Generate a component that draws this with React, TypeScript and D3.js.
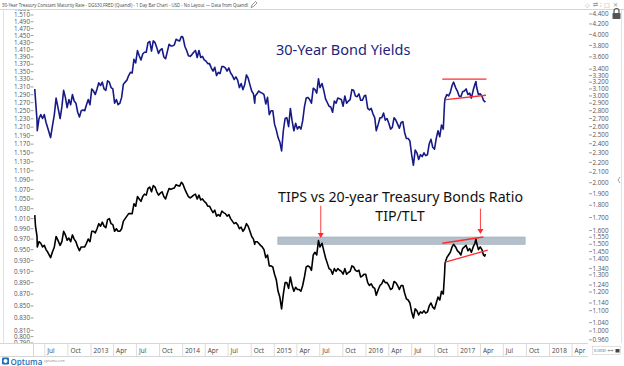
import React from "react";
import * as d3 from "d3";

// 30-Year Treasury yield (%), right axis
const yieldSeries: [string, number][] = [
  ["2012-05-22", 3.1], ["2012-05-25", 2.95], ["2012-05-31", 2.68], ["2012-06-01", 2.55], ["2012-06-08", 2.7],
  ["2012-06-15", 2.75], ["2012-06-22", 2.7], ["2012-06-29", 2.75], ["2012-07-06", 2.65], ["2012-07-13", 2.58],
  ["2012-07-24", 2.47], ["2012-07-31", 2.6], ["2012-08-08", 2.75], ["2012-08-15", 2.97], ["2012-08-22", 2.85],
  ["2012-08-31", 2.7], ["2012-09-07", 2.85], ["2012-09-14", 3.08], ["2012-09-21", 2.98], ["2012-09-28", 2.84],
  ["2012-10-05", 2.95], ["2012-10-12", 2.88], ["2012-10-19", 3.02], ["2012-10-26", 2.93], ["2012-11-02", 2.9],
  ["2012-11-09", 2.78], ["2012-11-16", 2.72], ["2012-11-23", 2.8], ["2012-11-30", 2.81], ["2012-12-07", 2.8],
  ["2012-12-14", 2.88], ["2012-12-21", 2.95], ["2012-12-28", 2.88], ["2013-01-04", 3.1], ["2013-01-11", 3.07],
  ["2013-01-18", 3.02], ["2013-01-25", 3.1], ["2013-02-01", 3.19], ["2013-02-08", 3.15], ["2013-02-15", 3.2],
  ["2013-02-22", 3.1], ["2013-03-01", 3.08], ["2013-03-08", 3.22], ["2013-03-15", 3.2], ["2013-03-22", 3.12],
  ["2013-03-29", 3.1], ["2013-04-05", 2.9], ["2013-04-12", 2.95], ["2013-04-19", 2.88], ["2013-04-26", 2.9],
  ["2013-05-03", 2.98], ["2013-05-10", 3.17], ["2013-05-17", 3.2], ["2013-05-24", 3.23], ["2013-05-31", 3.3],
  ["2013-06-07", 3.35], ["2013-06-14", 3.34], ["2013-06-21", 3.56], ["2013-06-28", 3.5], ["2013-07-05", 3.71],
  ["2013-07-12", 3.62], ["2013-07-19", 3.55], ["2013-07-26", 3.65], ["2013-08-02", 3.68], ["2013-08-09", 3.68],
  ["2013-08-16", 3.85], ["2013-08-23", 3.87], ["2013-08-30", 3.7], ["2013-09-06", 3.88], ["2013-09-13", 3.85],
  ["2013-09-20", 3.76], ["2013-09-27", 3.66], ["2013-10-04", 3.72], ["2013-10-11", 3.74], ["2013-10-18", 3.6],
  ["2013-10-25", 3.57], ["2013-11-01", 3.69], ["2013-11-08", 3.82], ["2013-11-15", 3.79], ["2013-11-22", 3.79],
  ["2013-11-29", 3.81], ["2013-12-06", 3.91], ["2013-12-13", 3.89], ["2013-12-20", 3.88], ["2013-12-27", 3.96],
  ["2013-12-31", 3.96], ["2014-01-03", 3.93], ["2014-01-10", 3.78], ["2014-01-17", 3.71], ["2014-01-24", 3.62],
  ["2014-01-31", 3.61], ["2014-02-07", 3.64], ["2014-02-14", 3.68], ["2014-02-21", 3.71], ["2014-02-28", 3.59],
  ["2014-03-07", 3.71], ["2014-03-14", 3.59], ["2014-03-21", 3.61], ["2014-03-28", 3.55], ["2014-04-04", 3.53],
  ["2014-04-11", 3.49], ["2014-04-18", 3.49], ["2014-04-25", 3.42], ["2014-05-02", 3.37], ["2014-05-09", 3.43],
  ["2014-05-16", 3.3], ["2014-05-23", 3.35], ["2014-05-30", 3.33], ["2014-06-06", 3.44], ["2014-06-13", 3.44],
  ["2014-06-20", 3.42], ["2014-06-27", 3.37], ["2014-07-04", 3.42], ["2014-07-11", 3.34], ["2014-07-18", 3.3],
  ["2014-07-25", 3.24], ["2014-08-01", 3.28], ["2014-08-08", 3.23], ["2014-08-15", 3.12], ["2014-08-22", 3.18],
  ["2014-08-29", 3.09], ["2014-09-05", 3.16], ["2014-09-12", 3.31], ["2014-09-19", 3.26], ["2014-09-26", 3.16],
  ["2014-10-03", 3.07], ["2014-10-10", 3.03], ["2014-10-15", 2.9], ["2014-10-17", 3.0], ["2014-10-24", 3.03],
  ["2014-10-31", 3.07], ["2014-11-07", 3.05], ["2014-11-14", 3.04], ["2014-11-21", 3.02], ["2014-11-28", 2.89],
  ["2014-12-05", 2.98], ["2014-12-12", 2.75], ["2014-12-19", 2.8], ["2014-12-26", 2.8], ["2015-01-02", 2.63],
  ["2015-01-09", 2.56], ["2015-01-16", 2.47], ["2015-01-23", 2.42], ["2015-01-30", 2.32], ["2015-02-06", 2.55],
  ["2015-02-13", 2.7], ["2015-02-20", 2.71], ["2015-02-27", 2.6], ["2015-03-06", 2.83], ["2015-03-13", 2.67],
  ["2015-03-20", 2.55], ["2015-03-27", 2.64], ["2015-04-03", 2.57], ["2015-04-10", 2.6], ["2015-04-17", 2.57],
  ["2015-04-24", 2.67], ["2015-05-01", 2.85], ["2015-05-08", 2.97], ["2015-05-15", 2.98], ["2015-05-22", 2.95],
  ["2015-05-29", 2.9], ["2015-06-05", 3.11], ["2015-06-12", 3.09], ["2015-06-19", 3.04], ["2015-06-26", 3.25],
  ["2015-07-02", 3.12], ["2015-07-10", 3.18], ["2015-07-17", 3.08], ["2015-07-24", 2.96], ["2015-07-31", 2.91],
  ["2015-08-07", 2.86], ["2015-08-14", 2.85], ["2015-08-21", 2.78], ["2015-08-28", 2.93], ["2015-09-04", 2.9],
  ["2015-09-11", 2.97], ["2015-09-18", 2.96], ["2015-09-25", 2.95], ["2015-10-02", 2.86], ["2015-10-09", 3.0],
  ["2015-10-16", 2.9], ["2015-10-23", 2.93], ["2015-10-30", 2.95], ["2015-11-06", 3.09], ["2015-11-13", 3.08],
  ["2015-11-20", 3.0], ["2015-11-27", 2.99], ["2015-12-04", 3.03], ["2015-12-11", 2.94], ["2015-12-18", 2.94],
  ["2015-12-25", 3.0], ["2015-12-31", 3.01], ["2016-01-08", 2.83], ["2016-01-15", 2.81], ["2016-01-22", 2.83],
  ["2016-01-29", 2.76], ["2016-02-05", 2.71], ["2016-02-11", 2.55], ["2016-02-19", 2.63], ["2016-02-26", 2.71],
  ["2016-03-04", 2.71], ["2016-03-11", 2.77], ["2016-03-18", 2.68], ["2016-03-25", 2.7], ["2016-04-01", 2.64],
  ["2016-04-08", 2.57], ["2016-04-15", 2.59], ["2016-04-22", 2.71], ["2016-04-29", 2.68], ["2016-05-06", 2.63],
  ["2016-05-13", 2.58], ["2016-05-20", 2.65], ["2016-05-27", 2.66], ["2016-06-03", 2.53], ["2016-06-10", 2.46],
  ["2016-06-17", 2.46], ["2016-06-24", 2.43], ["2016-07-01", 2.28], ["2016-07-08", 2.17], ["2016-07-15", 2.33],
  ["2016-07-22", 2.3], ["2016-07-29", 2.23], ["2016-08-05", 2.28], ["2016-08-12", 2.26], ["2016-08-19", 2.3],
  ["2016-08-26", 2.27], ["2016-09-02", 2.28], ["2016-09-09", 2.4], ["2016-09-16", 2.45], ["2016-09-23", 2.36],
  ["2016-09-30", 2.34], ["2016-10-07", 2.46], ["2016-10-14", 2.55], ["2016-10-21", 2.48], ["2016-10-28", 2.62],
  ["2016-11-04", 2.57], ["2016-11-09", 2.9], ["2016-11-11", 2.96], ["2016-11-18", 3.02], ["2016-11-25", 3.0],
  ["2016-12-02", 3.05], ["2016-12-09", 3.15], ["2016-12-15", 3.2], ["2016-12-23", 3.12], ["2016-12-30", 3.07],
  ["2017-01-06", 3.0], ["2017-01-13", 2.99], ["2017-01-20", 3.06], ["2017-01-27", 3.07], ["2017-02-03", 3.1],
  ["2017-02-10", 3.02], ["2017-02-17", 3.04], ["2017-02-24", 2.97], ["2017-03-03", 3.08], ["2017-03-10", 3.17],
  ["2017-03-14", 3.21], ["2017-03-17", 3.12], ["2017-03-24", 3.02], ["2017-03-31", 3.03], ["2017-04-07", 3.0],
  ["2017-04-13", 2.94], ["2017-04-18", 2.92], ["2017-04-21", 2.93],
];

// TIP/TLT ratio, left axis
const ratioSeries: [string, number][] = [
  ["2012-05-22", 1.017], ["2012-05-25", 0.995], ["2012-05-31", 0.975], ["2012-06-01", 0.955], ["2012-06-08", 0.965],
  ["2012-06-15", 0.962], ["2012-06-22", 0.955], ["2012-06-29", 0.958], ["2012-07-06", 0.95], ["2012-07-13", 0.945],
  ["2012-07-24", 0.935], ["2012-07-31", 0.945], ["2012-08-08", 0.955], ["2012-08-15", 0.975], ["2012-08-22", 0.968],
  ["2012-08-31", 0.958], ["2012-09-07", 0.965], ["2012-09-14", 0.985], ["2012-09-21", 0.978], ["2012-09-28", 0.968],
  ["2012-10-05", 0.972], ["2012-10-12", 0.965], ["2012-10-19", 0.978], ["2012-10-26", 0.97], ["2012-11-02", 0.965],
  ["2012-11-09", 0.955], ["2012-11-16", 0.948], ["2012-11-23", 0.955], ["2012-11-30", 0.955], ["2012-12-07", 0.955],
  ["2012-12-14", 0.962], ["2012-12-21", 0.97], ["2012-12-28", 0.965], ["2013-01-04", 0.985], ["2013-01-11", 0.985],
  ["2013-01-18", 0.982], ["2013-01-25", 0.99], ["2013-02-01", 1.0], ["2013-02-08", 0.995], ["2013-02-15", 1.003],
  ["2013-02-22", 0.995], ["2013-03-01", 0.992], ["2013-03-08", 1.008], ["2013-03-15", 1.01], ["2013-03-22", 1.0],
  ["2013-03-29", 0.998], ["2013-04-05", 0.985], ["2013-04-12", 0.99], ["2013-04-19", 0.985], ["2013-04-26", 0.985],
  ["2013-05-03", 0.99], ["2013-05-10", 1.005], ["2013-05-17", 1.01], ["2013-05-24", 1.015], ["2013-05-31", 1.02],
  ["2013-06-07", 1.02], ["2013-06-14", 1.02], ["2013-06-21", 1.04], ["2013-06-28", 1.035], ["2013-07-05", 1.055],
  ["2013-07-12", 1.05], ["2013-07-19", 1.045], ["2013-07-26", 1.055], ["2013-08-02", 1.06], ["2013-08-09", 1.058],
  ["2013-08-16", 1.072], ["2013-08-23", 1.075], ["2013-08-30", 1.065], ["2013-09-06", 1.078], ["2013-09-13", 1.075],
  ["2013-09-20", 1.065], ["2013-09-27", 1.058], ["2013-10-04", 1.062], ["2013-10-11", 1.065], ["2013-10-18", 1.055],
  ["2013-10-25", 1.05], ["2013-11-01", 1.062], ["2013-11-08", 1.072], ["2013-11-15", 1.07], ["2013-11-22", 1.072],
  ["2013-11-29", 1.073], ["2013-12-06", 1.08], ["2013-12-13", 1.078], ["2013-12-20", 1.077], ["2013-12-27", 1.085],
  ["2013-12-31", 1.083], ["2014-01-03", 1.08], ["2014-01-10", 1.07], ["2014-01-17", 1.062], ["2014-01-24", 1.055],
  ["2014-01-31", 1.052], ["2014-02-07", 1.055], ["2014-02-14", 1.058], ["2014-02-21", 1.06], ["2014-02-28", 1.05],
  ["2014-03-07", 1.058], ["2014-03-14", 1.048], ["2014-03-21", 1.05], ["2014-03-28", 1.045], ["2014-04-04", 1.042],
  ["2014-04-11", 1.035], ["2014-04-18", 1.035], ["2014-04-25", 1.028], ["2014-05-02", 1.022], ["2014-05-09", 1.027],
  ["2014-05-16", 1.015], ["2014-05-23", 1.018], ["2014-05-30", 1.015], ["2014-06-06", 1.025], ["2014-06-13", 1.022],
  ["2014-06-20", 1.02], ["2014-06-27", 1.015], ["2014-07-04", 1.018], ["2014-07-11", 1.01], ["2014-07-18", 1.005],
  ["2014-07-25", 1.0], ["2014-08-01", 1.002], ["2014-08-08", 0.998], ["2014-08-15", 0.99], ["2014-08-22", 0.993],
  ["2014-08-29", 0.985], ["2014-09-05", 0.99], ["2014-09-12", 1.0], ["2014-09-19", 0.995], ["2014-09-26", 0.985],
  ["2014-10-03", 0.975], ["2014-10-10", 0.97], ["2014-10-15", 0.96], ["2014-10-17", 0.965], ["2014-10-24", 0.965],
  ["2014-10-31", 0.962], ["2014-11-07", 0.958], ["2014-11-14", 0.955], ["2014-11-21", 0.95], ["2014-11-28", 0.935],
  ["2014-12-05", 0.94], ["2014-12-12", 0.92], ["2014-12-19", 0.92], ["2014-12-26", 0.918], ["2015-01-02", 0.905],
  ["2015-01-09", 0.895], ["2015-01-16", 0.875], ["2015-01-23", 0.865], ["2015-01-30", 0.845], ["2015-02-06", 0.87],
  ["2015-02-13", 0.89], ["2015-02-20", 0.89], ["2015-02-27", 0.88], ["2015-03-06", 0.9], ["2015-03-13", 0.885],
  ["2015-03-20", 0.875], ["2015-03-27", 0.882], ["2015-04-03", 0.878], ["2015-04-10", 0.878], ["2015-04-17", 0.875],
  ["2015-04-24", 0.885], ["2015-05-01", 0.9], ["2015-05-08", 0.918], ["2015-05-15", 0.92], ["2015-05-22", 0.918],
  ["2015-05-29", 0.912], ["2015-06-05", 0.94], ["2015-06-12", 0.945], ["2015-06-19", 0.94], ["2015-06-26", 0.967],
  ["2015-07-02", 0.955], ["2015-07-10", 0.962], ["2015-07-17", 0.948], ["2015-07-24", 0.935], ["2015-07-31", 0.925],
  ["2015-08-07", 0.915], ["2015-08-14", 0.913], ["2015-08-21", 0.905], ["2015-08-28", 0.915], ["2015-09-04", 0.91],
  ["2015-09-11", 0.915], ["2015-09-18", 0.912], ["2015-09-25", 0.91], ["2015-10-02", 0.905], ["2015-10-09", 0.915],
  ["2015-10-16", 0.905], ["2015-10-23", 0.908], ["2015-10-30", 0.91], ["2015-11-06", 0.92], ["2015-11-13", 0.918],
  ["2015-11-20", 0.912], ["2015-11-27", 0.91], ["2015-12-04", 0.912], ["2015-12-11", 0.9], ["2015-12-18", 0.902],
  ["2015-12-25", 0.905], ["2015-12-31", 0.905], ["2016-01-08", 0.89], ["2016-01-15", 0.885], ["2016-01-22", 0.888],
  ["2016-01-29", 0.882], ["2016-02-05", 0.88], ["2016-02-11", 0.868], ["2016-02-19", 0.878], ["2016-02-26", 0.885],
  ["2016-03-04", 0.888], ["2016-03-11", 0.895], ["2016-03-18", 0.89], ["2016-03-25", 0.89], ["2016-04-01", 0.885],
  ["2016-04-08", 0.878], ["2016-04-15", 0.88], ["2016-04-22", 0.892], ["2016-04-29", 0.89], ["2016-05-06", 0.885],
  ["2016-05-13", 0.878], ["2016-05-20", 0.885], ["2016-05-27", 0.885], ["2016-06-03", 0.872], ["2016-06-10", 0.862],
  ["2016-06-17", 0.86], ["2016-06-24", 0.855], ["2016-07-01", 0.84], ["2016-07-08", 0.83], ["2016-07-15", 0.845],
  ["2016-07-22", 0.842], ["2016-07-29", 0.835], ["2016-08-05", 0.84], ["2016-08-12", 0.838], ["2016-08-19", 0.842],
  ["2016-08-26", 0.838], ["2016-09-02", 0.84], ["2016-09-09", 0.85], ["2016-09-16", 0.855], ["2016-09-23", 0.848],
  ["2016-09-30", 0.845], ["2016-10-07", 0.855], ["2016-10-14", 0.865], ["2016-10-21", 0.86], ["2016-10-28", 0.875],
  ["2016-11-04", 0.87], ["2016-11-09", 0.905], ["2016-11-11", 0.925], ["2016-11-18", 0.935], ["2016-11-25", 0.94],
  ["2016-12-02", 0.945], ["2016-12-09", 0.955], ["2016-12-15", 0.96], ["2016-12-23", 0.955], ["2016-12-30", 0.948],
  ["2017-01-06", 0.945], ["2017-01-13", 0.94], ["2017-01-20", 0.952], ["2017-01-27", 0.955], ["2017-02-03", 0.958],
  ["2017-02-10", 0.948], ["2017-02-17", 0.952], ["2017-02-24", 0.945], ["2017-03-03", 0.955], ["2017-03-10", 0.962],
  ["2017-03-14", 0.97], ["2017-03-17", 0.962], ["2017-03-24", 0.95], ["2017-03-31", 0.955], ["2017-04-07", 0.95],
  ["2017-04-13", 0.94], ["2017-04-18", 0.938], ["2017-04-21", 0.942],
];

const leftTicks = [1.53, 1.51, 1.49, 1.47, 1.45, 1.43, 1.41, 1.39, 1.37, 1.35, 1.33, 1.31, 1.29, 1.27, 1.25, 1.23,
  1.21, 1.19, 1.17, 1.15, 1.13, 1.11, 1.09, 1.07, 1.05, 1.03, 1.01, 0.99, 0.97, 0.95, 0.93, 0.91, 0.89, 0.87,
  0.85, 0.83, 0.81, 0.8, 0.79];
const rightTicks = [4.4, 4.2, 4.0, 3.8, 3.6, 3.4, 3.3, 3.2, 3.1, 3.0, 2.9, 2.8, 2.7, 2.6, 2.5, 2.4, 2.3, 2.2, 2.1,
  2.0, 1.9, 1.8, 1.7, 1.6, 1.55, 1.5, 1.45, 1.4, 1.34, 1.3, 1.24, 1.2, 1.14, 1.1, 1.04, 1.0, 0.96, 0.93];

// annotations (date, value)
const yieldChannelTop: [string, number][] = [["2016-10-31", 3.247], ["2017-04-25", 3.247]];
const yieldChannelBottom: [string, number][] = [["2016-11-14", 2.95], ["2017-04-23", 3.01]];
const ratioChannelTop: [string, number][] = [["2016-10-31", 0.962], ["2017-04-13", 0.974]];
const ratioChannelBottom: [string, number][] = [["2016-11-12", 0.927], ["2017-04-30", 0.949]];
const resistanceBand = { from: "2015-01-15", to: "2017-09-26", high: 0.974, low: 0.96 };
const arrows: { date: string; top: number; tip: number }[] = [
  { date: "2015-07-05", top: 1.036, tip: 0.972 },
  { date: "2017-04-01", top: 1.03, tip: 0.98 },
];

const W = 624, H = 366;
const PL = 34, PR = 588, PT = 10, PB = 343;
const parse = d3.timeParse("%Y-%m-%d");

export default function App() {
  const x = d3.scaleTime().domain([new Date(2013, 0, 1), new Date(2018, 0, 1)]).range([91, 549.5]);
  const yR = d3.scaleLog().domain([4.4, 0.93]).range([14, 14 + Math.log(4.4 / 0.93) * 214]);
  const yL = d3.scaleLog().domain([1.51, 0.79]).range([15, 343]);

  const lineR = d3.line<[string, number]>().x((d) => x(parse(d[0])!)).y((d) => yR(d[1]));
  const lineL = d3.line<[string, number]>().x((d) => x(parse(d[0])!)).y((d) => yL(d[1]));

  const xTicks = d3.timeMonth.every(3)!.range(new Date(2012, 6, 1), new Date(2018, 4, 1));
  const fmtTick = (d: Date) => (d.getMonth() === 0 ? d3.timeFormat("%Y")(d) : d3.timeFormat("%b")(d));

  const axisFont = "'Open Sans', 'Noto Sans', sans-serif";
  const red = "#ff2b2b";

  const bandX0 = x(parse(resistanceBand.from)!);
  const bandX1 = x(parse(resistanceBand.to)!);

  return (
    <svg width={W} height={H} style={{ position: "absolute", left: 0, top: 0, background: "#fff" }}
      fontFamily={axisFont}>
      <defs>
        <clipPath id="plotclip"><rect x={PL} y={PT} width={PR - PL} height={PB - PT} /></clipPath>
        <clipPath id="axisclip"><rect x={0} y={PT} width={W} height={PB - PT} /></clipPath>
      </defs>
      <rect x={0} y={0} width={W} height={H} fill="#fff" />
      {/* header */}
      <text x={2} y={6.5} fontSize={4.6} fill="#444" textLength={246} lengthAdjust="spacingAndGlyphs">
        30-Year Treasury Constant Maturity Rate - DGS30.FRED (Quandl) - 1 Day Bar Chart - USD - No Layout — Data from Quandl
      </text>
      <path d="M251,7.5 l1,-2.5 l3.5,-3.5 l1.5,1.5 l-3.5,3.5 z" fill="none" stroke="#555" strokeWidth={0.6} />
      <text x={585} y={7} fontSize={6} fill="#999" letterSpacing={2.5}>◇⇄⁝▢✕</text>
      <line x1={0} x2={W} y1={PT - 0.5} y2={PT - 0.5} stroke="#d6d6d6" />
      <line x1={3.5} x2={3.5} y1={PT} y2={PB} stroke="#e2e2e2" />
      <line x1={621.5} x2={621.5} y1={PT} y2={PB} stroke="#e2e2e2" />

      <g clipPath="url(#axisclip)">
        {/* left axis */}
        {leftTicks.map((t) => (
          <g key={"l" + t}>
            <text x={30} y={yL(t)} dy="0.35em" fontSize={6.3} fill="#555" textAnchor="end">{t.toFixed(3)}</text>
            <line x1={30.5} x2={33.5} y1={yL(t)} y2={yL(t)} stroke="#777" strokeWidth={0.7} />
          </g>
        ))}
        {/* right axis */}
        {rightTicks.map((t) => (
          <g key={"r" + t}>
            <line x1={589} x2={592} y1={yR(t)} y2={yR(t)} stroke="#777" strokeWidth={0.7} />
            <text x={592.5} y={yR(t)} dy="0.35em" fontSize={6.3} fill="#555">{t.toFixed(3)}</text>
          </g>
        ))}
      </g>
      {/* lock icon */}
      <g fill="#555">
        <path d="M614,13 v-2 a2.5,2.5 0 0 1 5,0 v2" fill="none" stroke="#555" strokeWidth={1.2} />
        <rect x={612.5} y={13} width={8} height={6} rx={0.8} />
      </g>
      <path d="M620,177 l-2,3 l2,3" fill="none" stroke="#888" strokeWidth={0.8} />

      {/* plot */}
      <g clipPath="url(#plotclip)">
        <rect x={bandX0} y={yL(resistanceBand.high)} width={bandX1 - bandX0}
          height={yL(resistanceBand.low) - yL(resistanceBand.high)} fill="#b3c0cb" stroke="#9aa9b6" strokeWidth={0.6} />
        <path d={lineR(yieldSeries)!} fill="none" stroke="#161a87" strokeWidth={1.6} strokeLinejoin="round" />
        <path d={lineL(ratioSeries)!} fill="none" stroke="#000" strokeWidth={1.6} strokeLinejoin="round" />
        <path d={lineR(yieldChannelTop)!} stroke={red} strokeWidth={1.3} fill="none" />
        <path d={lineR(yieldChannelBottom)!} stroke={red} strokeWidth={1.3} fill="none" />
        <path d={lineL(ratioChannelTop)!} stroke={red} strokeWidth={1.3} fill="none" />
        <path d={lineL(ratioChannelBottom)!} stroke={red} strokeWidth={1.3} fill="none" />
        {arrows.map((a, i) => {
          const ax = x(parse(a.date)!);
          const y0 = yL(a.top), y1 = yL(a.tip);
          return (
            <g key={"a" + i}>
              <line x1={ax} x2={ax} y1={y0} y2={y1 - 4} stroke={red} strokeWidth={0.9} />
              <path d={`M${ax - 3},${y1 - 5} L${ax + 3},${y1 - 5} L${ax},${y1} Z`} fill={red} />
            </g>
          );
        })}
        <text x={276} y={55} fontSize={14.5} fill="#1b2480" fontFamily="'Noto Sans', sans-serif">30-Year Bond Yields</text>
        <text x={278} y={202} fontSize={14.2} fill="#111" fontFamily="'Noto Sans', sans-serif">TIPS vs 20-year Treasury Bonds Ratio</text>
        <text x={400} y={221} fontSize={14.2} fill="#111" textAnchor="middle" fontFamily="'Noto Sans', sans-serif">TIP/TLT</text>
      </g>

      {/* x axis band */}
      <rect x={0} y={PB} width={PR} height={13} fill="#fff" />
      <line x1={0} x2={PR} y1={PB + 0.5} y2={PB + 0.5} stroke="#d6d6d6" />
      <line x1={0} x2={PR} y1={PB + 13.5} y2={PB + 13.5} stroke="#d6d6d6" />
      <line x1={33.5} x2={33.5} y1={PB} y2={PB + 13} stroke="#d6d6d6" />
      {xTicks.map((d) => {
        const px = x(d);
        return (
          <g key={d.toISOString()}>
            <line x1={px} x2={px} y1={PB} y2={PB + 13} stroke="#dcdcdc" />
            <text x={px + 2.5} y={PB + 9.5} fontSize={6.5} fill="#444">{fmtTick(d)}</text>
          </g>
        );
      })}
      {/* bottom right box */}
      <rect x={592.5} y={346.5} width={28} height={8} fill="#fff" stroke="#ccc" strokeWidth={0.6} />
      <text x={594} y={352.3} fontSize={4.2} fill="#555">0.003!</text>
      <path d="M608,350.5 h5 M608,350.5 l1,-1 M608,350.5 l1,1 M613,350.5 l-1,-1 M613,350.5 l-1,1" stroke="#555" strokeWidth={0.5} />
      <rect x={615.5} y={349} width={4} height={3.5} fill="#444" />

      {/* logo */}
      <rect x={2} y={357.5} width={7} height={7} rx={1.2} fill="#1d6fb8" />
      <circle cx={5.5} cy={361} r={2} fill="#fff" />
      <text x={10.5} y={364.5} fontSize={8} fill="#1d6fb8" fontWeight={600}>Optuma</text>
      <text x={44} y={362} fontSize={3.5} fill="#888">optuma.com</text>
    </svg>
  );
}
